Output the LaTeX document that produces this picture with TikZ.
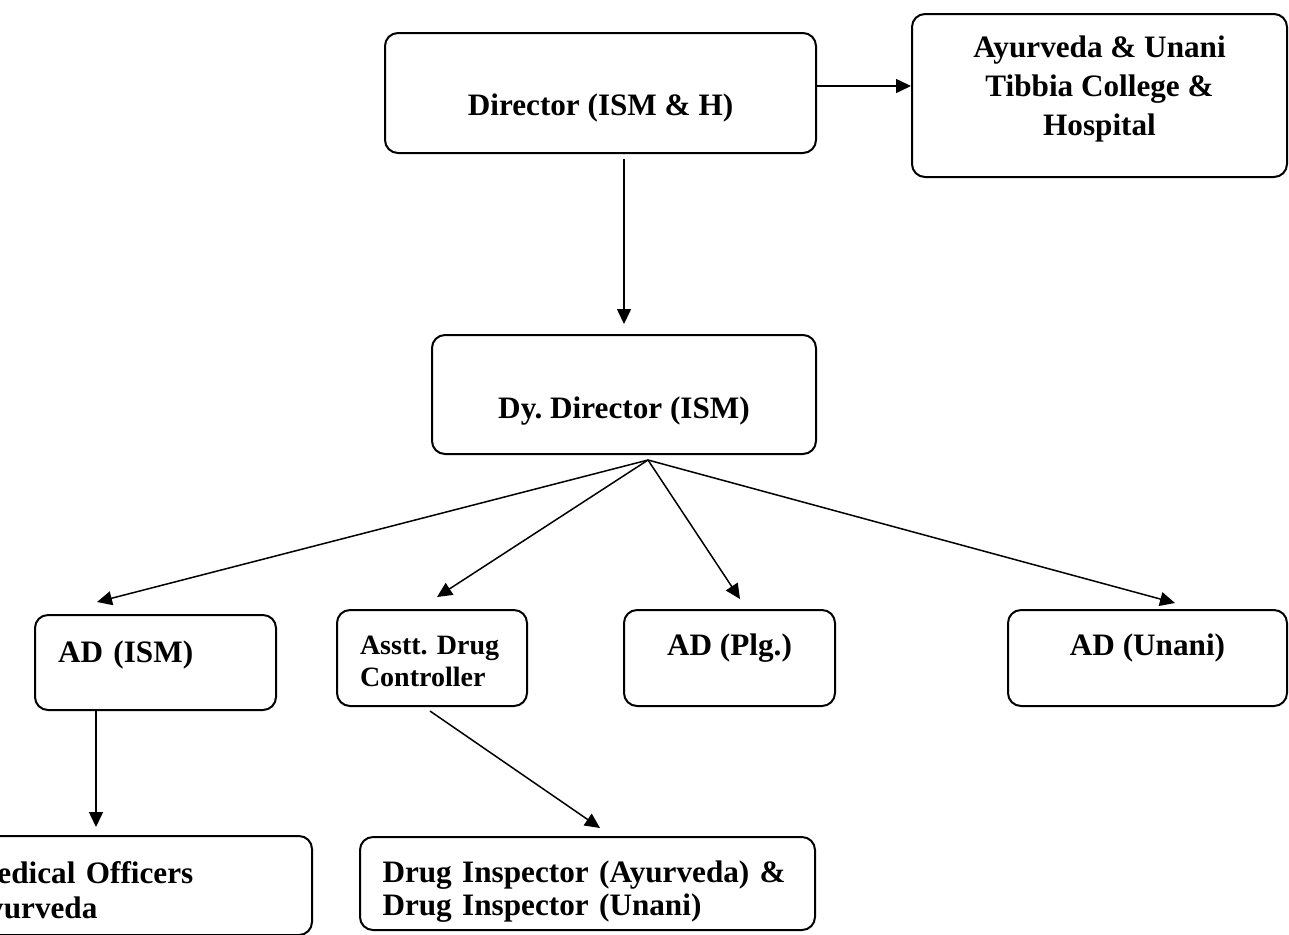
\documentclass[tikz,border=0pt]{standalone}
\usepackage{fontspec}
\setmainfont{Liberation Serif}
\usetikzlibrary{arrows.meta,positioning,calc}
\frenchspacing

\begin{document}
\begin{tikzpicture}[
        x=0.5pt,y=-0.5pt,
        box/.style={draw,line width=1pt,rounded corners=6.5pt,inner ysep=1pt,font=\bfseries\fontsize{15.6}{17.5}\selectfont},
        cbox/.style={box,align=center,inner xsep=4pt},
        lbox/.style={box,align=left,inner xsep=11.5pt},
        arr/.style={-{Triangle[length=7.5pt,width=7pt]},line width=0.75pt}
      ]
      \useasboundingbox (0,0) rectangle (1289,934);
      \clip (0,0) rectangle (1289,934);

      \node[cbox,minimum width=215.5pt,minimum height=60pt,text height=25.8pt,text depth=3.4pt] (dir) at (600.5,93)
      {Director (ISM \& H)};
      \node[cbox,minimum width=187.5pt,minimum height=81.5pt,text height=43.3pt,text depth=3.4pt,
        font=\bfseries\fontsize{15.6}{19.5}\selectfont] (ayur) at (1099.5,95.5)
      {Ayurveda \& Unani\\Tibbia College \&\\Hospital};

      \node[cbox,minimum width=192pt,minimum height=59.5pt,text height=27.3pt,text depth=3.4pt] (dy) at (624,394.5)
      {Dy. Director (ISM)};

      \node[lbox,text width=97.5pt,minimum height=47.5pt,text height=10pt,text depth=10.1pt] (adism) at (155.5,662.5)
      {AD (ISM)};
      \node[lbox,text width=72pt,minimum height=48pt,text height=10pt,text depth=13.7pt,
        font=\bfseries\fontsize{14}{16}\selectfont] (asst) at (432,658)
      {Asstt. Drug\\Controller};
      \node[cbox,minimum width=105.5pt,minimum height=48pt,text height=10pt,text depth=12.6pt] (plg) at (729.5,658)
      {AD (Plg.)};
      \node[cbox,minimum width=139.5pt,minimum height=48pt,text height=10pt,text depth=12.6pt] (unani) at (1147.5,658)
      {AD (Unani)};

      \node[lbox,text width=163pt,inner xsep=9pt,minimum height=49.5pt,text height=10pt,text depth=12.1pt] (medoff) at (131,885.5)
      {Medical Officers\\Ayurveda};
      \node[lbox,text width=205pt,inner xsep=11.25pt,minimum height=46.5pt,text height=10pt,text depth=11.1pt,
        font=\bfseries\fontsize{15.6}{16.5}\selectfont] (drug) at (587.5,883.5)
      {Drug Inspector (Ayurveda) \&\\Drug Inspector (Unani)};

      \coordinate (fan) at ($(dy.south)+(12pt,-2.5pt)$);

      \draw[arr] ($(dir.east)+(0,3.5pt)$) -- ($(dir.east -| ayur.west)+(0,3.5pt)$);
      \draw[arr] ($(dir.south -| dy.north)+(0,-2.5pt)$) -- ($(dy.north)+(0,5pt)$);
      \draw[arr] (fan) -- ($(adism.north)+(-29.25pt,6pt)$);
      \draw[arr] (fan) -- ($(asst.north)+(2.5pt,6pt)$);
      \draw[arr] (fan) -- ($(plg.north)+(5.25pt,5pt)$);
      \draw[arr] (fan) -- ($(unani.north)+(13.75pt,3pt)$);
      \draw[arr] ($(adism.south)+(-29.75pt,0)$) -- ($(medoff.north)+(-17.5pt,4pt)$);
      \draw[arr] ($(asst.south)+(-1pt,-2pt)$) -- ($(drug.north)+(6.25pt,4pt)$);
    \end{tikzpicture}
\end{document}
